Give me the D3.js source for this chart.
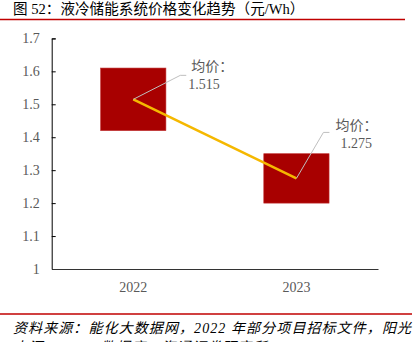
<!DOCTYPE html>
<html><head><meta charset="utf-8">
<script src="https://cdn.jsdelivr.net/npm/d3@7/dist/d3.min.js"></script>
<style>
html,body{margin:0;padding:0;background:#fff;overflow:hidden;}
svg{display:block;}
</style></head>
<body>
<svg id="c" width="416" height="342"></svg>
<script>
const categories = ["2022", "2023"];
const lowValues = [1.42, 1.20];
const highValues = [1.61, 1.35];
const avgValues = [1.515, 1.275];
const avgLabels = ["1.515", "1.275"];
const yTicks = [1, 1.1, 1.2, 1.3, 1.4, 1.5, 1.6, 1.7];
const yTickLabels = ["1", "1.1", "1.2", "1.3", "1.4", "1.5", "1.6", "1.7"];
const titleText = "图 52：液冷储能系统价格变化趋势（元/Wh）";
const sourceLines = ["资料来源：能化大数据网，2022 年部分项目招标文件，阳光", "电源，EESA 数据库，海通证券研究所"];

const svg = d3.select("#c");
const serif = "'Liberation Serif','Times New Roman',serif";
const cjk = "'Liberation Serif','Noto Sans CJK SC',serif";
const gray = "#595959";

// title
svg.append("text").attr("x", 13).attr("y", 14)
  .attr("font-family", cjk).attr("font-size", 14.6).attr("fill", "#000")
  .text(titleText);
svg.append("line").attr("x1", 0).attr("x2", 405).attr("y1", 19.5).attr("y2", 19.5)
  .attr("stroke", "#c00000").attr("stroke-width", 1.5);

const x = d3.scaleBand().domain(categories).range([51.7, 378]).padding(0);
const y = d3.scaleLinear().domain([1, 1.7]).range([269, 38.4]);

// boxes
const boxW = x.bandwidth() * 0.4;
svg.append("g").selectAll("rect").data(categories).join("rect")
  .attr("x", d => x(d) + x.bandwidth() / 2 - boxW / 2)
  .attr("width", boxW)
  .attr("y", (d, i) => y(highValues[i]))
  .attr("height", (d, i) => y(lowValues[i]) - y(highValues[i]))
  .attr("fill", "#a80000")
  .attr("stroke", "#c03030").attr("stroke-width", 0.6);

// average line
const cx = d => x(d) + x.bandwidth() / 2;
const pts = categories.map((d, i) => [cx(d), y(avgValues[i])]);
svg.append("path").attr("d", d3.line()(pts))
  .attr("fill", "none").attr("stroke", "#f5b800").attr("stroke-width", 2.5);

// annotations
const leader = [
  { ex: 47, ey: -24, hx: 53, t1x: 58, t1y: -33, t2x: 55, t2y: -15 },
  { ex: 27, ey: -46, hx: 33, t1x: 39, t1y: -53, t2x: 44, t2y: -35 }
];
pts.forEach((p, i) => {
  const L = leader[i];
  svg.append("path")
    .attr("d", `M${p[0]},${p[1]}L${p[0] + L.ex},${p[1] + L.ey}L${p[0] + L.hx},${p[1] + L.ey}`)
    .attr("fill", "none").attr("stroke", "#bfbfbf").attr("stroke-width", 1);
  svg.append("text").attr("x", p[0] + L.t1x).attr("y", p[1] + L.t1y)
    .attr("dy", "0.35em").attr("font-family", cjk).attr("font-size", 14).attr("fill", gray)
    .text("均价：");
  svg.append("text").attr("x", p[0] + L.t2x).attr("y", p[1] + L.t2y)
    .attr("dy", "0.35em").attr("font-family", serif).attr("font-size", 14).attr("fill", gray)
    .text(avgLabels[i]);
});

// y axis
const yAxis = svg.append("g").attr("transform", "translate(51.7,0)")
  .call(d3.axisLeft(y).tickValues(yTicks).tickFormat((d, i) => yTickLabels[i])
    .tickSizeInner(-4).tickSizeOuter(-4).tickPadding(12));
yAxis.select(".domain").attr("stroke", "#000");
yAxis.selectAll(".tick line").attr("stroke", "#000");
yAxis.selectAll(".tick text").attr("font-family", serif).attr("font-size", 14).attr("fill", gray);
yAxis.selectAll(".tick").filter(d => d === 1).select("line").remove();

// x axis
const xAxis = svg.append("g").attr("transform", "translate(0,269)")
  .call(d3.axisBottom(x).tickSize(0).tickPadding(13));
xAxis.select(".domain").attr("stroke", "#333");
xAxis.selectAll(".tick text").attr("font-family", serif).attr("font-size", 14).attr("fill", gray);

// source
svg.append("line").attr("x1", 0).attr("x2", 412).attr("y1", 314).attr("y2", 314)
  .attr("stroke", "#c00000").attr("stroke-width", 1.5);
sourceLines.forEach((s, i) => {
  const t = svg.append("text").attr("x", 13).attr("y", 333 + i * 19)
    .attr("font-family", cjk).attr("font-size", 14).attr("font-style", "italic")
    .attr("fill", "#000").text(s);
  if (i === 0) t.attr("textLength", 398).attr("lengthAdjust", "spacing");
  else t.attr("letter-spacing", 1.2);
});
</script>
</body></html>
